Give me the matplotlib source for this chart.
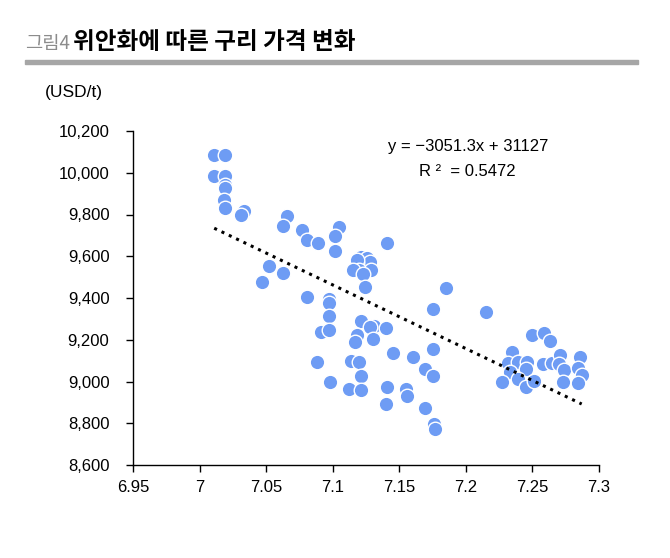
import numpy as np
import matplotlib
matplotlib.use('Agg')
import matplotlib.pyplot as plt
from matplotlib.patches import Rectangle

plt.rcParams['font.family'] = ['Liberation Sans', 'Noto Sans CJK KR', 'DejaVu Sans']

# 위안화 (CNY/USD) vs 구리 가격 (USD/t)
cny = [7.011, 7.019, 7.011, 7.019, 7.019, 7.019, 7.018, 7.019, 7.033, 7.031,
       7.066, 7.063, 7.077, 7.081, 7.089, 7.105, 7.102, 7.102, 7.141,
       7.121, 7.126, 7.128, 7.118, 7.118, 7.120, 7.115, 7.129, 7.123, 7.124,
       7.052, 7.063, 7.047, 7.081, 7.097, 7.097, 7.097, 7.185, 7.175, 7.215,
       7.091, 7.097, 7.121, 7.131, 7.128, 7.140, 7.118, 7.117, 7.130,
       7.145, 7.160, 7.175, 7.088, 7.114, 7.120, 7.169, 7.175, 7.121,
       7.098, 7.112, 7.121, 7.141, 7.155, 7.156, 7.140, 7.169, 7.176, 7.177,
       7.250, 7.259, 7.263, 7.235, 7.232, 7.239, 7.246, 7.245, 7.233, 7.227,
       7.239, 7.245, 7.251, 7.258, 7.265, 7.271, 7.270, 7.274, 7.273,
       7.286, 7.284, 7.287, 7.284]
copper = [10085, 10085, 9984, 9984, 9941, 9927, 9870, 9831, 9817, 9798,
          9793, 9745, 9726, 9678, 9664, 9740, 9697, 9625, 9664,
          9596, 9592, 9573, 9568, 9582, 9534, 9534, 9534, 9515, 9453,
          9553, 9520, 9477, 9405, 9395, 9376, 9314, 9448, 9347, 9333,
          9237, 9247, 9290, 9266, 9261, 9256, 9223, 9189, 9204,
          9137, 9117, 9156, 9094, 9098, 9094, 9060, 9026, 9026,
          8998, 8964, 8959, 8974, 8964, 8931, 8892, 8873, 8797, 8773,
          9223, 9232, 9194, 9141, 9089, 9094, 9094, 9060, 9046, 8998,
          9012, 8974, 9002, 9084, 9089, 9127, 9084, 9055, 8998,
          9117, 9065, 9031, 8993]

# 추세선 (엑셀 선형 추세선)
slope = -3051.3
intercept = 31127
r2 = 0.5472

x_ticks = [6.95, 7, 7.05, 7.1, 7.15, 7.2, 7.25, 7.3]
x_labels = ['6.95', '7', '7.05', '7.1', '7.15', '7.2', '7.25', '7.3']
y_ticks = [8600, 8800, 9000, 9200, 9400, 9600, 9800, 10000, 10200]

W, H = 670, 558
fig = plt.figure(figsize=(W / 100, H / 100), dpi=100)
ax = fig.add_axes([133 / W, 1 - 465 / H, (599 - 133) / W, (465 - 131) / H])

ax.scatter(cny, copper, s=110, color='#6E9CF4', edgecolors='white', linewidths=1.0, zorder=2)

xs = np.array([min(cny), max(cny)])
ax.plot(xs, slope * xs + intercept, color='black', ls=':', lw=2.2, zorder=3)

ax.set_xlim(6.95, 7.3)
ax.set_ylim(8600, 10200)
ax.set_xticks(x_ticks)
ax.set_xticklabels(x_labels)
ax.set_yticks(y_ticks)
ax.set_yticklabels(['{:,}'.format(v) for v in y_ticks])
for s in ['top', 'right']:
    ax.spines[s].set_visible(False)
for s in ['left', 'bottom']:
    ax.spines[s].set_linewidth(1.0)
    ax.spines[s].set_color('black')
ax.tick_params(direction='out', length=5, width=1, labelsize=12, colors='black')
ax.tick_params(axis='y', pad=12)
ax.tick_params(axis='x', pad=6)

ax.text(468 / W, 1 - 146 / H, 'y = \u22123051.3x + 31127', transform=fig.transFigure,
        ha='center', va='center', fontsize=12)
ax.text(467 / W, 1 - 171 / H, 'R ²  = {:.4f}'.format(r2), transform=fig.transFigure,
        ha='center', va='center', fontsize=12)

fig.text(45 / W, 1 - 93 / H, '(USD/t)', ha='left', va='center', fontsize=12.5)

# 제목
fig.text(25 / W, 1 - 43 / H, '그림4', ha='left', va='center', fontsize=13.5,
         color='#8C8C8C', family=['Noto Sans CJK KR'])
fig.text(73 / W, 1 - 42 / H, '위안화에 따른 구리 가격 변화', ha='left', va='center', fontsize=17,
         color='black', fontweight='bold', family=['Noto Sans CJK KR'])
fig.patches.append(Rectangle((25 / W, 1 - 64 / H), (638 - 25) / W, 4 / H,
                             transform=fig.transFigure, color='#A6A6A6'))

fig.savefig('out.png', dpi=100)
